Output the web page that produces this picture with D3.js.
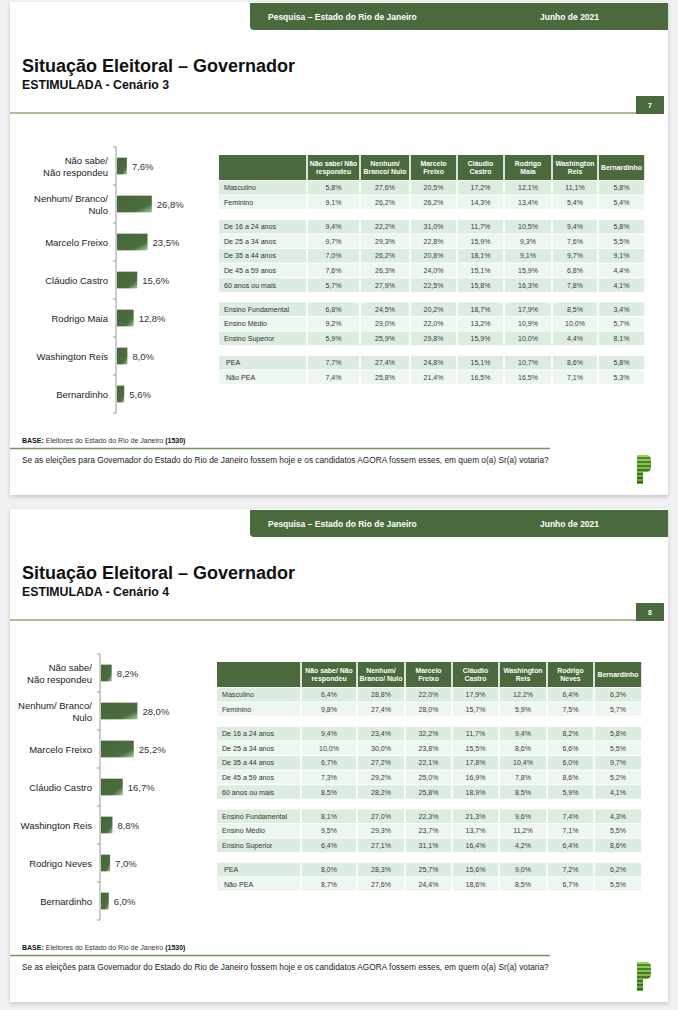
<!DOCTYPE html>
<html><head><meta charset="utf-8">
<script src="https://cdn.jsdelivr.net/npm/d3@7/dist/d3.min.js"></script>
<style>
html,body{margin:0;padding:0;background:#eff1f3;}
svg{display:block;font-family:"Liberation Sans",Arial,sans-serif;}
</style></head>
<body>
<svg id="c" width="678" height="1010"></svg>
<script>
// ---------- DATA ----------
const headerLeft = "Pesquisa – Estado do Rio de Janeiro";
const headerRight = "Junho de 2021";
const titleText = "Situação Eleitoral – Governador";
const subtitles = ["ESTIMULADA - Cenário 3", "ESTIMULADA - Cenário 4"];
const pageNumbers = ["7", "8"];
const questionText = "Se as eleições para Governador do Estado do Rio de Janeiro fossem hoje e os candidatos AGORA fossem esses, em quem o(a) Sr(a) votaria?";

const categories3 = ["Não sabe/\nNão respondeu", "Nenhum/ Branco/\nNulo", "Marcelo Freixo", "Cláudio Castro", "Rodrigo Maia", "Washington Reis", "Bernardinho"];
const values3 = [7.6, 26.8, 23.5, 15.6, 12.8, 8.0, 5.6];
const categories4 = ["Não sabe/\nNão respondeu", "Nenhum/ Branco/\nNulo", "Marcelo Freixo", "Cláudio Castro", "Washington Reis", "Rodrigo Neves", "Bernardinho"];
const values4 = [8.2, 28.0, 25.2, 16.7, 8.8, 7.0, 6.0];

const columns3 = ["Não sabe/ Não\nrespondeu", "Nenhum/\nBranco/ Nulo", "Marcelo\nFreixo", "Cláudio\nCastro", "Rodrigo\nMaia", "Washington\nReis", "Bernardinho"];
const columns4 = ["Não sabe/ Não\nrespondeu", "Nenhum/\nBranco/ Nulo", "Marcelo\nFreixo", "Cláudio\nCastro", "Washington\nReis", "Rodrigo\nNeves", "Bernardinho"];
const rowLabels = ["Masculino", "Feminino", "De 16 a 24 anos", "De 25 a 34 anos", "De 35 a 44 anos", "De 45 a 59 anos", "60 anos ou mais", "Ensino Fundamental", "Ensino Médio", "Ensino Superior", "PEA", "Não PEA"];
const rowGroups = [0, 0, 1, 1, 1, 1, 1, 2, 2, 2, 3, 3];

const table3 = [
  [5.8, 27.6, 20.5, 17.2, 12.1, 11.1, 5.8],
  [9.1, 26.2, 26.2, 14.3, 13.4, 5.4, 5.4],
  [9.4, 22.2, 31.0, 11.7, 10.5, 9.4, 5.8],
  [9.7, 29.3, 22.8, 15.9, 9.3, 7.6, 5.5],
  [7.0, 26.2, 20.8, 18.1, 9.1, 9.7, 9.1],
  [7.6, 26.3, 24.0, 15.1, 15.9, 6.8, 4.4],
  [5.7, 27.9, 22.5, 15.8, 16.3, 7.8, 4.1],
  [6.8, 24.5, 20.2, 18.7, 17.9, 8.5, 3.4],
  [9.2, 29.0, 22.0, 13.2, 10.9, 10.0, 5.7],
  [5.9, 25.9, 29.8, 15.9, 10.0, 4.4, 8.1],
  [7.7, 27.4, 24.8, 15.1, 10.7, 8.6, 5.8],
  [7.4, 25.8, 21.4, 16.5, 16.5, 7.1, 5.3]
];
const table4 = [
  [6.4, 28.8, 22.0, 17.9, 12.2, 6.4, 6.3],
  [9.8, 27.4, 28.0, 15.7, 5.9, 7.5, 5.7],
  [9.4, 23.4, 32.2, 11.7, 9.4, 8.2, 5.8],
  [10.0, 30.0, 23.8, 15.5, 8.6, 6.6, 5.5],
  [6.7, 27.2, 22.1, 17.8, 10.4, 6.0, 9.7],
  [7.3, 29.2, 25.0, 16.9, 7.8, 8.6, 5.2],
  [8.5, 28.2, 25.8, 18.9, 8.5, 5.9, 4.1],
  [8.1, 27.0, 22.3, 21.3, 9.6, 7.4, 4.3],
  [9.5, 29.3, 23.7, 13.7, 11.2, 7.1, 5.5],
  [6.4, 27.1, 31.1, 16.4, 4.2, 6.4, 8.6],
  [8.0, 28.3, 25.7, 15.6, 9.0, 7.2, 6.2],
  [8.7, 27.6, 24.4, 18.6, 8.5, 6.7, 5.5]
];

// ---------- DRAW ----------
const svg = d3.select("#c");
const GREEN = "#4a6a3e";
const fmt = v => d3.format(".1f")(v).replace(".", ",") + "%";

const defs = svg.append("defs");
const grad = defs.append("linearGradient").attr("id", "barGrad").attr("x1", "0").attr("y1", "0").attr("x2", "1").attr("y2", "1");
grad.append("stop").attr("offset", "0").attr("stop-color", "#45663a");
grad.append("stop").attr("offset", "0.72").attr("stop-color", "#4b6d3f");
grad.append("stop").attr("offset", "1").attr("stop-color", "#a9c59a");
const sh = defs.append("filter").attr("id", "shadow").attr("x", "-5%").attr("y", "-5%").attr("width", "110%").attr("height", "112%");
sh.append("feDropShadow").attr("dx", 0).attr("dy", 2).attr("stdDeviation", 2).attr("flood-color", "#000").attr("flood-opacity", 0.18);

const slides = [
  {oy: 0, cats: categories3, vals: values3, cols: columns3, data: table3, axisX: 116,
   colEdges: [219, 307, 360, 410, 457, 504, 552, 598, 645], sub: subtitles[0], page: pageNumbers[0]},
  {oy: 507, cats: categories4, vals: values4, cols: columns4, data: table4, axisX: 100,
   colEdges: [217, 301, 357, 405, 452, 499, 547, 594, 642], sub: subtitles[1], page: pageNumbers[1]}
];

slides.forEach(s => {
  const g = svg.append("g").attr("transform", `translate(0,${s.oy})`);
  // slide background
  g.append("rect").attr("x", 10).attr("y", 2).attr("width", 658).attr("height", 493)
    .attr("fill", "#fff").attr("filter", "url(#shadow)");

  // header band with rounded bottom-left
  const hx = 250, hy = 3, hw = 418, hh = 27, r = 4;
  g.append("path").attr("d", `M${hx},${hy} H${hx + hw} V${hy + hh} H${hx + r} Q${hx},${hy + hh} ${hx},${hy + hh - r} Z`)
    .attr("fill", GREEN);
  g.append("text").attr("x", 268).attr("y", 19.5).attr("fill", "#fff").attr("font-size", 8.5).attr("font-weight", "bold").text(headerLeft);
  g.append("text").attr("x", 540).attr("y", 19.5).attr("fill", "#fff").attr("font-size", 8.5).attr("font-weight", "bold").text(headerRight);

  // titles
  g.append("text").attr("x", 22).attr("y", 72).attr("font-size", 18).attr("font-weight", "bold").attr("fill", "#111").text(titleText);
  g.append("text").attr("x", 22).attr("y", 89).attr("font-size", 12.3).attr("font-weight", "bold").attr("fill", "#111").text(s.sub);

  // top rule and page number
  g.append("line").attr("x1", 10).attr("x2", 636).attr("y1", 113).attr("y2", 113).attr("stroke", "#a9c192").attr("stroke-width", 2);
  g.append("rect").attr("x", 636).attr("y", 96).attr("width", 28).attr("height", 18).attr("fill", GREEN);
  g.append("text").attr("x", 650).attr("y", 108).attr("text-anchor", "middle").attr("fill", "#fff").attr("font-size", 7).attr("font-weight", "bold").text(s.page);

  // ---------- bar chart ----------
  const y = d3.scaleBand().domain(s.cats).range([147, 413]).paddingInner(0.56).paddingOuter(0.28);
  const x = d3.scaleLinear().domain([0, 30]).range([0, 39]);
  const ax = s.axisX;
  const bandTop = 147;
  g.append("line").attr("x1", ax).attr("x2", ax).attr("y1", bandTop).attr("y2", 413).attr("stroke", "#999").attr("stroke-width", 1);
  const tickYs = d3.range(s.cats.length + 1).map(i => bandTop + i * (266 / s.cats.length));
  g.selectAll(".tk").data(tickYs).join("line").attr("class", "tk")
    .attr("x1", ax - 3).attr("x2", ax).attr("y1", d => d).attr("y2", d => d).attr("stroke", "#999");

  const bars = g.selectAll(".bar").data(s.cats.map((c, i) => ({c, v: s.vals[i]}))).join("g").attr("class", "bar");
  bars.append("rect").attr("x", ax + 1).attr("y", d => y(d.c)).attr("height", y.bandwidth())
    .attr("width", d => x(d.v)).attr("fill", "url(#barGrad)");
  bars.append("text").attr("x", d => ax + 1 + x(d.v) + 5).attr("y", d => y(d.c) + y.bandwidth() / 2 + 3.5)
    .attr("font-size", 9.5).attr("fill", "#333").text(d => fmt(d.v));
  bars.each(function(d) {
    const lines = d.c.split("\n");
    const cy = y(d.c) + y.bandwidth() / 2;
    const t = d3.select(this).append("text").attr("text-anchor", "end").attr("font-size", 9.5).attr("fill", "#222");
    lines.forEach((ln, i) => {
      t.append("tspan").attr("x", ax - 8).attr("y", cy + 3.5 + (i - (lines.length - 1) / 2) * 12).text(ln);
    });
  });

  // ---------- table ----------
  const E = s.colEdges;
  const headTop = 155, headH = 25;
  const rowStep = 14.6, groupGap = 9.6, firstRow = 181;
  const rowY = d3.scaleLinear().domain([0, 1]).range([firstRow, firstRow + rowStep]);
  const rowTop = i => rowY(i) + rowGroups[i] * groupGap;
  for (let c = 0; c < 8; c++) {
    g.append("rect").attr("x", E[c] + (c ? 0.8 : 0)).attr("y", headTop).attr("width", E[c + 1] - E[c] - (c ? 0.8 : 0) - 0.8)
      .attr("height", headH).attr("fill", GREEN);
  }
  s.cols.forEach((col, c) => {
    const lines = col.split("\n");
    const cx = (E[c + 1] + E[c + 2]) / 2;
    const t = g.append("text").attr("text-anchor", "middle").attr("font-size", 6.9).attr("font-weight", "bold").attr("fill", "#fff");
    lines.forEach((ln, i) => {
      t.append("tspan").attr("x", cx).attr("y", headTop + headH / 2 + 2.4 + (i - (lines.length - 1) / 2) * 8.5).text(ln);
    });
  });
  rowLabels.forEach((lab, i) => {
    const yTop = rowTop(i);
    const idxInGroup = i - rowGroups.indexOf(rowGroups[i]);
    const fill = idxInGroup % 2 === 0 ? "#dcede0" : "#edf6ef";
    for (let c = 0; c < 8; c++) {
      g.append("rect").attr("x", E[c] + (c ? 0.8 : 0)).attr("y", yTop).attr("width", E[c + 1] - E[c] - (c ? 0.8 : 0) - 0.8)
        .attr("height", rowStep - 1).attr("fill", fill);
    }
    const ty = yTop + (rowStep - 1) / 2 + 2.5;
    g.append("text").attr("x", E[0] + (rowGroups[i] === 3 ? 7 : 5)).attr("y", ty).attr("font-size", 7.1).attr("fill", "#333").text(lab);
    s.data[i].forEach((v, c) => {
      g.append("text").attr("x", (E[c + 1] + E[c + 2]) / 2).attr("y", ty).attr("text-anchor", "middle")
        .attr("font-size", 7).attr("fill", "#3a3a3a").text(fmt(v));
    });
  });

  // ---------- footer ----------
  const base = g.append("text").attr("x", 22).attr("y", 443).attr("font-size", 7).attr("fill", "#333");
  base.append("tspan").attr("font-weight", "bold").attr("fill", "#111").text("BASE:");
  base.append("tspan").text(" Eleitores do Estado do Rio de Janeiro ");
  base.append("tspan").attr("font-weight", "bold").attr("fill", "#111").text("(1530)");
  g.append("line").attr("x1", 10).attr("x2", 550).attr("y1", 448.5).attr("y2", 448.5).attr("stroke", "#6f9558").attr("stroke-width", 1.3);
  g.append("text").attr("x", 22).attr("y", 463).attr("font-size", 8.3).attr("fill", "#222").text(questionText);

  // logo (striped P)
  const cid = "pclip" + s.oy;
  defs.append("clipPath").attr("id", cid).append("path")
    .attr("d", "M637,455 H646 Q651,455 651,460 V467 Q651,472 646,472 H643 V484 H637 Z");
  const lg = g.append("g").attr("clip-path", `url(#${cid})`);
  const stripes = d3.range(455, 485, 2);
  lg.selectAll("rect").data(stripes).join("rect").attr("x", 636).attr("width", 16).attr("y", d => d).attr("height", 2)
    .attr("fill", (d, i) => i % 2 === 0 ? d3.interpolateRgb("#9ccd5a", "#5f9b3a")(i / stripes.length) : d3.interpolateRgb("#4f8a2c", "#2f6a22")(i / stripes.length));
});
</script>
</body></html>
